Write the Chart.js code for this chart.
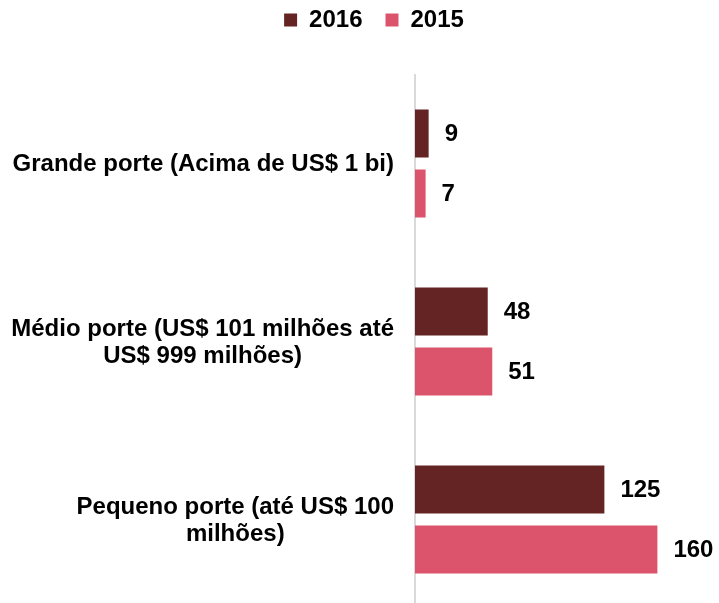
<!DOCTYPE html>
<html>
<head>
<meta charset="utf-8">
<script src="https://cdn.jsdelivr.net/npm/chart.js@4"></script>
<style>
  html, body { margin: 0; padding: 0; background: #fff; }
  #wrap { width: 719px; height: 603px; }
</style>
</head>
<body>
<div id="wrap"><canvas id="chart"></canvas></div>
<script>
// Categorias (rótulos do eixo, com quebra de linha)
const categories = [
  ["Grande porte (Acima de US$ 1 bi)"],
  ["Médio porte (US$ 101 milhões até", "US$ 999 milhões)"],
  ["Pequeno porte (até US$ 100", "milhões)"]
];
const seriesNames = ["2016", "2015"];
const values2016 = [9, 48, 125];
const values2015 = [7, 51, 160];

const FONT = "'Liberation Sans', Arial, sans-serif";

// Desenha rótulos do eixo Y (centralizados, bloco alinhado à direita)
const axisLabels = {
  id: "axisLabels",
  afterDraw(chart) {
    const ctx = chart.ctx;
    const y = chart.scales.y;
    ctx.save();
    ctx.font = "bold 24px " + FONT;
    ctx.fillStyle = "#000";
    ctx.textAlign = "center";
    ctx.textBaseline = "middle";
    const lh = 27;
    categories.forEach((lines, i) => {
      const w = Math.max(...lines.map(l => ctx.measureText(l).width));
      const cx = 394 - w / 2;
      const cy = y.getPixelForTick(i) + 1;
      lines.forEach((l, j) => {
        ctx.fillText(l, cx, cy + (j - (lines.length - 1) / 2) * lh);
      });
    });
    ctx.restore();
  }
};

// Rótulos de valor ao lado das barras
const valueLabels = {
  id: "valueLabels",
  afterDatasetsDraw(chart) {
    const ctx = chart.ctx;
    ctx.save();
    ctx.font = "bold 24px " + FONT;
    ctx.fillStyle = "#000";
    ctx.textAlign = "left";
    ctx.textBaseline = "middle";
    chart.data.datasets.forEach((ds, di) => {
      chart.getDatasetMeta(di).data.forEach((bar, i) => {
        ctx.fillText(ds.data[i], bar.x + 16, bar.y + 1);
      });
    });
    ctx.restore();
  }
};

// Ajustes de posição: legenda e área do gráfico
const layoutTweak = {
  id: "layoutTweak",
  afterLayout(chart) {
    const lg = chart.legend;
    lg.left += 15; lg.right += 15;
    lg.top -= 15; lg.bottom -= 15;
    const y = chart.scales.y;
    y.top = 74.5;
    y.bottom = 608.5;
    y.height = y.bottom - y.top;
    y.configure();
    chart.chartArea.top = y.top;
    chart.chartArea.bottom = y.bottom;
    chart.chartArea.height = y.height;
  }
};

new Chart(document.getElementById("chart"), {
  type: "bar",
  data: {
    labels: categories,
    datasets: [
      { label: seriesNames[0], data: values2016, backgroundColor: "#632423" },
      { label: seriesNames[1], data: values2015, backgroundColor: "#DC546B" }
    ]
  },
  options: {
    indexAxis: "y",
    responsive: true,
    maintainAspectRatio: false,
    animation: false,
    categoryPercentage: 0.674,
    barPercentage: 0.8,
    layout: { padding: { left: 0, right: 1, top: 0, bottom: 0 } },
    plugins: {
      legend: {
        position: "top",
        labels: {
          boxWidth: 13,
          boxHeight: 13,
          padding: 23,
          color: "#000",
          font: { family: FONT, size: 24, weight: "bold" }
        }
      },
      tooltip: { enabled: false }
    },
    scales: {
      x: {
        min: 0,
        max: 200,
        display: false
      },
      y: {
        grid: { display: false },
        border: { display: true, color: "#d9d9d9", width: 2 },
        ticks: { display: false },
        afterFit(scale) { scale.width = 415; }
      }
    }
  },
  plugins: [axisLabels, valueLabels, layoutTweak]
});
</script>
</body>
</html>
